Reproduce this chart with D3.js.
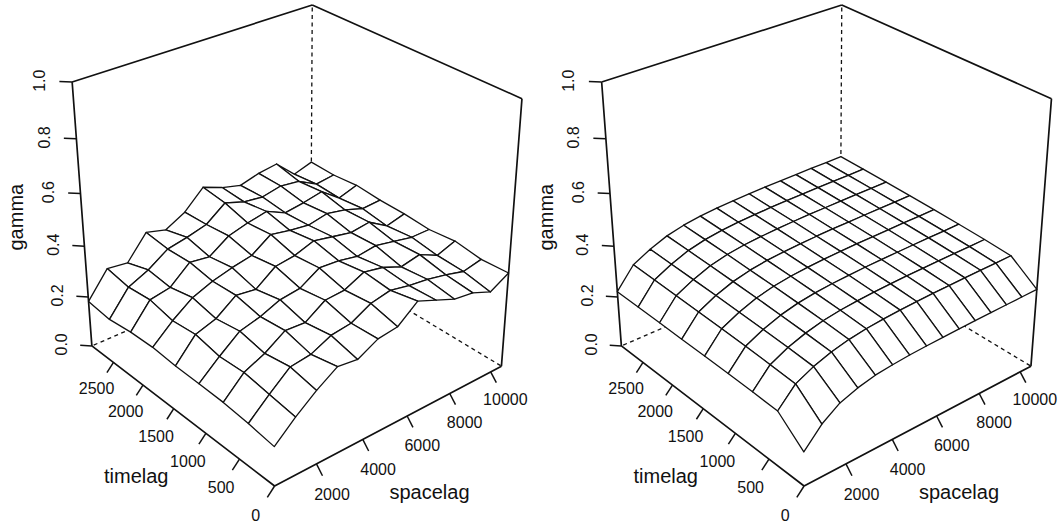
<!DOCTYPE html>
<html>
<head>
<meta charset="utf-8">
<script src="https://cdn.jsdelivr.net/npm/d3@7"></script>
<style>
  body { margin: 0; background: #fff; }
  text { font-family: "Liberation Sans", Arial, sans-serif; fill: #111; }
</style>
</head>
<body>
<svg id="chart" width="1059" height="523"></svg>
<script>
// time lags (rows) shared by both surfaces
const timeLags = [0, 360, 720, 1080, 1440, 1800, 2160, 2520, 2880];
// spatial lags of the sample variogram (left) and of the fitted model grid (right)
const spaceLagsSample = [260, 1120, 1980, 2840, 3690, 4550, 5400, 6260, 7110, 7970, 8830, 9690, 10540];
const spaceLagsModel = [260, 994, 1729, 2463, 3197, 3931, 4666, 5400, 6134, 6869, 7603, 8337, 9071, 9806, 10540];

// gamma, one row per time lag
const gammaSample = [
  [0.150, 0.220, 0.280, 0.330, 0.320, 0.360, 0.370, 0.430, 0.400, 0.370, 0.360, 0.330, 0.370],
  [0.165, 0.235, 0.300, 0.310, 0.345, 0.355, 0.395, 0.410, 0.395, 0.385, 0.370, 0.350, 0.365],
  [0.175, 0.250, 0.285, 0.335, 0.330, 0.380, 0.385, 0.420, 0.405, 0.375, 0.390, 0.355, 0.380],
  [0.178, 0.245, 0.305, 0.325, 0.355, 0.365, 0.410, 0.405, 0.390, 0.400, 0.385, 0.370, 0.370],
  [0.180, 0.265, 0.290, 0.345, 0.335, 0.390, 0.400, 0.425, 0.410, 0.395, 0.405, 0.360, 0.378],
  [0.187, 0.255, 0.310, 0.340, 0.360, 0.375, 0.425, 0.410, 0.400, 0.415, 0.400, 0.375, 0.380],
  [0.183, 0.275, 0.290, 0.355, 0.345, 0.395, 0.415, 0.430, 0.395, 0.405, 0.420, 0.365, 0.388],
  [0.171, 0.265, 0.300, 0.350, 0.365, 0.385, 0.440, 0.415, 0.405, 0.420, 0.410, 0.370, 0.379],
  [0.182, 0.280, 0.270, 0.360, 0.340, 0.380, 0.450, 0.420, 0.400, 0.420, 0.430, 0.360, 0.382]
];
const gammaModel = [
  [0.130, 0.200, 0.245, 0.268, 0.283, 0.290, 0.295, 0.298, 0.300, 0.302, 0.303, 0.304, 0.305, 0.306, 0.307],
  [0.212, 0.280, 0.312, 0.335, 0.350, 0.360, 0.366, 0.370, 0.373, 0.375, 0.376, 0.377, 0.378, 0.378, 0.379],
  [0.215, 0.285, 0.318, 0.341, 0.357, 0.367, 0.373, 0.377, 0.380, 0.382, 0.383, 0.384, 0.385, 0.385, 0.386],
  [0.217, 0.289, 0.322, 0.346, 0.362, 0.372, 0.378, 0.382, 0.385, 0.387, 0.388, 0.389, 0.390, 0.390, 0.391],
  [0.218, 0.292, 0.325, 0.350, 0.366, 0.376, 0.382, 0.386, 0.389, 0.391, 0.392, 0.393, 0.394, 0.394, 0.395],
  [0.219, 0.294, 0.328, 0.353, 0.369, 0.379, 0.385, 0.389, 0.392, 0.394, 0.395, 0.396, 0.397, 0.397, 0.398],
  [0.220, 0.296, 0.330, 0.356, 0.372, 0.382, 0.388, 0.392, 0.395, 0.397, 0.398, 0.399, 0.400, 0.400, 0.401],
  [0.220, 0.298, 0.332, 0.358, 0.374, 0.384, 0.390, 0.394, 0.397, 0.399, 0.400, 0.401, 0.402, 0.402, 0.403],
  [0.221, 0.300, 0.334, 0.360, 0.376, 0.386, 0.392, 0.396, 0.399, 0.401, 0.402, 0.403, 0.404, 0.404, 0.405]
];

const timeTicks = [0, 500, 1000, 1500, 2000, 2500];
const spaceTicks = [2000, 4000, 6000, 8000, 10000];
const gammaTicks = [0, 0.2, 0.4, 0.6, 0.8, 1.0];

// persp-style view: theta, phi, eye distance, z expand, scale, origin
const view = { theta: -40, phi: 29.9, dist: 10.7, expand: 1.005, scale: 1628, ox: 294.7, oy: 229.3 };

function camera(v, shiftX) {
  const ct = Math.cos(v.theta * Math.PI / 180), st = Math.sin(v.theta * Math.PI / 180);
  const cp = Math.cos(v.phi * Math.PI / 180), sp = Math.sin(v.phi * Math.PI / 180);
  return (X, Y, Z) => {
    const ze = Z * v.expand;
    const x1 = X * ct + Y * st;
    const z1 = X * st - Y * ct;
    const y2 = ze * cp - z1 * sp;
    const z2 = ze * sp + z1 * cp;
    const w = v.dist - z2;
    return [v.ox + shiftX + v.scale * x1 / w, v.oy - v.scale * y2 / w, z2];
  };
}

const svg = d3.select('#chart');
const tickK = 0.058, labelK = 0.15;

function drawPanel(offsetX, spaceLags, gamma) {
  const proj = camera(view, offsetX);
  const g = svg.append('g');

  const x = d3.scaleLinear().domain(d3.extent(spaceLags)).range([-1, 1]);
  const y = d3.scaleLinear().domain(d3.extent(timeLags)).range([-1, 1]);
  const z = d3.scaleLinear().domain([0, 1]).range([-1, 1]);

  const seg = (a, b) => {
    const pa = proj(...a), pb = proj(...b);
    return `M${pa[0]},${pa[1]}L${pb[0]},${pb[1]}`;
  };

  // hidden box edges
  g.append('path')
    .attr('d', seg([1, 1, -1], [1, 1, 1]) + seg([1, 1, -1], [-1, 1, -1]) + seg([1, 1, -1], [1, -1, -1]))
    .attr('fill', 'none').attr('stroke', '#111').attr('stroke-width', 1.3)
    .attr('stroke-dasharray', '4,3.5');

  // surface facets, back to front
  const facets = [];
  for (let i = 0; i < timeLags.length - 1; i++) {
    for (let j = 0; j < spaceLags.length - 1; j++) {
      const pts = [[j, i], [j + 1, i], [j + 1, i + 1], [j, i + 1]]
        .map(([a, b]) => proj(x(spaceLags[a]), y(timeLags[b]), z(gamma[b][a])));
      facets.push({ pts, depth: d3.mean(pts, q => q[2]) });
    }
  }
  facets.sort((a, b) => a.depth - b.depth);
  g.append('g').selectAll('path').data(facets).join('path')
    .attr('d', d => 'M' + d.pts.map(q => q[0] + ',' + q[1]).join('L') + 'Z')
    .attr('fill', '#fff').attr('stroke', '#111').attr('stroke-width', 1.3)
    .attr('stroke-linejoin', 'round');

  // visible box edges
  g.append('path')
    .attr('d', seg([-1, 1, -1], [-1, 1, 1]) + seg([-1, 1, 1], [1, 1, 1]) + seg([1, 1, 1], [1, -1, 1]) +
      seg([1, -1, 1], [1, -1, -1]) + seg([1, -1, -1], [-1, -1, -1]) + seg([-1, -1, -1], [-1, 1, -1]))
    .attr('fill', 'none').attr('stroke', '#111').attr('stroke-width', 1.7)
    .attr('stroke-linejoin', 'round');

  const axis = (ticks, at, dir, fmt, rotate, title, mid, titleK) => {
    ticks.forEach(t => {
      const a = at(t);
      const b = a.map((v, k) => v + dir[k] * tickK);
      const c = a.map((v, k) => v + dir[k] * labelK);
      g.append('path').attr('d', seg(a, b)).attr('stroke', '#111').attr('stroke-width', 1.5);
      const pc = proj(...c);
      g.append('text')
        .attr('transform', `translate(${pc[0]},${pc[1]})` + (rotate ? ' rotate(-90)' : ''))
        .attr('text-anchor', 'middle').attr('dominant-baseline', 'central')
        .style('font-size', '16px').text(fmt(t));
    });
    const m = at(mid).map((v, k) => v + dir[k] * titleK);
    const pm = proj(...m);
    g.append('text')
      .attr('transform', `translate(${pm[0]},${pm[1]})` + (rotate ? ' rotate(-90)' : ''))
      .attr('text-anchor', 'middle').attr('dominant-baseline', 'central')
      .style('font-size', '20px').text(title);
  };

  axis(spaceTicks, v => [x(v), -1, -1], [0, -1, -1], d3.format('d'), false, 'spacelag', d3.mean(x.domain()), 0.35);
  axis(timeTicks, v => [-1, y(v), -1], [-1, 0, -1], d3.format('d'), false, 'timelag', d3.mean(y.domain()), 0.35);
  axis(gammaTicks, v => [-1, 1, z(v)], [-1, 1, 0], d3.format('.1f'), true, 'gamma', 0.5, 0.315);
}

drawPanel(0, spaceLagsSample, gammaSample);
drawPanel(529.5, spaceLagsModel, gammaModel);
</script>
</body>
</html>
